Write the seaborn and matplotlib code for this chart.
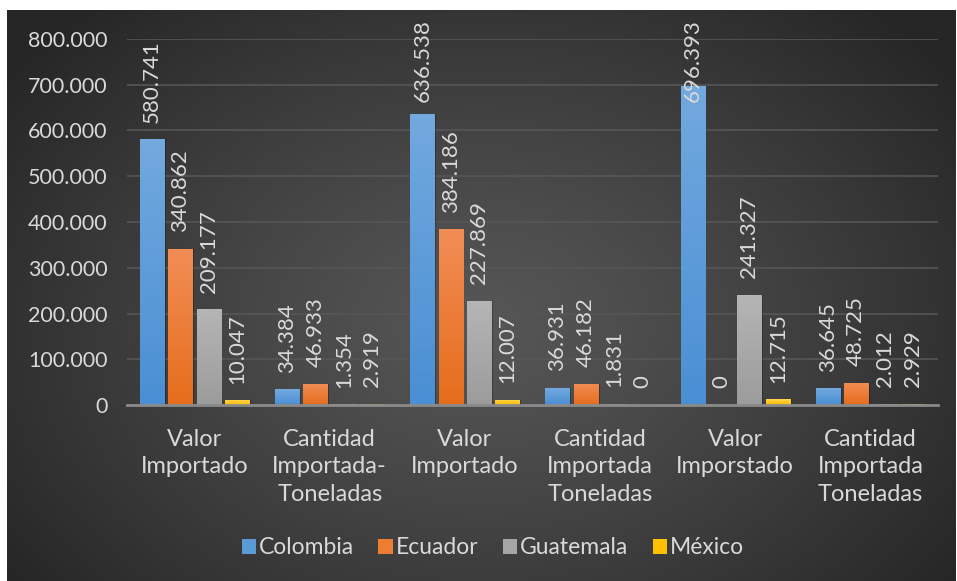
import numpy as np
import pandas as pd
import matplotlib
matplotlib.use("Agg")
import matplotlib.pyplot as plt
import matplotlib.colors as mcolors
from matplotlib.patches import Patch
import seaborn as sns

# ---------------- data ----------------
categories = ["Valor\nImportado", "Cantidad\nImportada-\nToneladas", "Valor\nImportado",
              "Cantidad\nImportada\nToneladas", "Valor\nImporstado", "Cantidad\nImportada\nToneladas"]
countries = ["Colombia", "Ecuador", "Guatemala", "México"]
colombia = [580741, 34384, 636538, 36931, 696393, 36645]
ecuador = [340862, 46933, 384186, 46182, 0, 48725]
guatemala = [209177, 1354, 227869, 1831, 241327, 2012]
mexico = [10047, 2919, 12007, 0, 12715, 2929]
yticks = [0, 100000, 200000, 300000, 400000, 500000, 600000, 700000, 800000]

series = {"Colombia": colombia, "Ecuador": ecuador, "Guatemala": guatemala, "México": mexico}
keys = [f"g{i}" for i in range(len(categories))]
rows = []
for c in countries:
    for k, v in zip(keys, series[c]):
        rows.append({"grupo": k, "pais": c, "valor": v})
df = pd.DataFrame(rows)

colors = {"Colombia": "#5b9bd5", "Ecuador": "#ed7d31", "Guatemala": "#a5a5a5", "México": "#ffc000"}
grad = {"Colombia": ("#72a9de", "#4a8fd4"), "Ecuador": ("#f18d55", "#e66d1c"),
        "Guatemala": ("#b5b5b5", "#9c9c9c"), "México": ("#ffd24d", "#ffbf00")}
txt = "#d9d9d9"

# ---------------- figure ----------------
W, H = 957, 581
fig = plt.figure(figsize=(W / 100, H / 100), dpi=100)
fig.patch.set_facecolor("white")

# radial-gradient background panel
bg = fig.add_axes([7 / W, 0, 949 / W, 571 / H])
bg.set_axis_off()
ny, nx = 300, 500
yy, xx = np.mgrid[0:ny, 0:nx]
r = np.sqrt(((xx - nx * 0.5) / (nx * 0.62)) ** 2 + ((yy - ny * 0.55) / (ny * 0.75)) ** 2)
t = np.clip(r, 0, 1) ** 1.2
light = np.array(mcolors.to_rgb("#565656"))
dark = np.array(mcolors.to_rgb("#262626"))
img = light[None, None, :] * (1 - t[..., None]) + dark[None, None, :] * t[..., None]
bg.imshow(img, aspect="auto", extent=[0, 1, 0, 1], origin="upper")
bg.set_xlim(0, 1)
bg.set_ylim(0, 1)

ax = fig.add_axes([127 / W, (H - 405) / H, (938 - 127) / W, (405 - 39) / H])
ax.set_facecolor("none")
sns.barplot(data=df, x="grupo", y="valor", hue="pais", order=keys, hue_order=countries,
            palette=colors, width=0.84, gap=0.15, ax=ax, legend=False, saturation=1,
            edgecolor="none")

ax.set_ylim(0, 800000)
ax.set_xlim(-0.5, len(categories) - 0.5)
ax.set_yticks(yticks)
ax.set_yticklabels([f"{v:,}".replace(",", ".") for v in yticks], color=txt, fontsize=15.5,
                   family="Lato")
ax.set_xticks(range(len(categories)))
ax.set_xticklabels(categories, color=txt, fontsize=17, family="Lato", linespacing=1.4)
ax.tick_params(axis="both", length=0)
ax.tick_params(axis="y", pad=14)
ax.tick_params(axis="x", pad=17)
ax.set_xlabel("")
ax.set_ylabel("")
for s in ["top", "right", "left"]:
    ax.spines[s].set_visible(False)
ax.spines["bottom"].set_color("#8a8a8a")
ax.spines["bottom"].set_linewidth(2)
ax.spines["bottom"].set_zorder(5)
ax.grid(axis="y", color="#565656", linewidth=1.2)
ax.grid(axis="x", visible=False)
ax.set_axisbelow(True)

# gradient fills + shadows on bars
for cont, c in zip(ax.containers, countries):
    top, bot = grad[c]
    cmap = mcolors.LinearSegmentedColormap.from_list(c, [bot, top])
    for bar in cont:
        x0, w, h = bar.get_x(), bar.get_width(), bar.get_height()
        if h <= 0:
            continue
        sh = plt.Rectangle((x0 + 0.012, 0), w, h, transform=ax.transData,
                           facecolor="black", alpha=0.25, zorder=1.5, linewidth=0)
        ax.add_patch(sh)
        im = ax.imshow(np.linspace(0, 1, 64)[:, None], cmap=cmap, aspect="auto",
                       extent=[x0, x0 + w, 0, h], origin="lower", zorder=2.5)
        im.set_clip_path(bar)
ax.set_xlim(-0.5, len(categories) - 0.5)
ax.set_ylim(0, 800000)

# data labels
texts = []
for cont, c in zip(ax.containers, countries):
    labs = [f"{v:,}".replace(",", ".") for v in series[c]]
    tt = ax.bar_label(cont, labels=labs, rotation=90, padding=12, color=txt,
                      fontsize=16, family="Lato")
    for tx in tt:
        tx.set_clip_on(False)
        tx.set_zorder(6)
    texts.extend(tt)

fig.canvas.draw()
renderer = fig.canvas.get_renderer()
for tx in texts:
    bb = tx.get_window_extent(renderer)
    limit = H - 19
    if bb.y1 > limit:
        shift_pts = (bb.y1 - limit) * 72 / fig.dpi
        ox, oy = tx.xyann
        tx.xyann = (ox, oy - shift_pts)

# legend
handles = [Patch(facecolor=colors[c], edgecolor="none") for c in countries]
leg = fig.legend(handles, countries, loc="center", bbox_to_anchor=(493 / W, 33 / H),
                 ncol=4, frameon=False, handlelength=0.62, handleheight=0.62,
                 handletextpad=0.15, columnspacing=1.05,
                 prop={"family": "Lato", "size": 16.5})
for t_ in leg.get_texts():
    t_.set_color(txt)

fig.savefig("out.png", dpi=100, facecolor=fig.get_facecolor())
